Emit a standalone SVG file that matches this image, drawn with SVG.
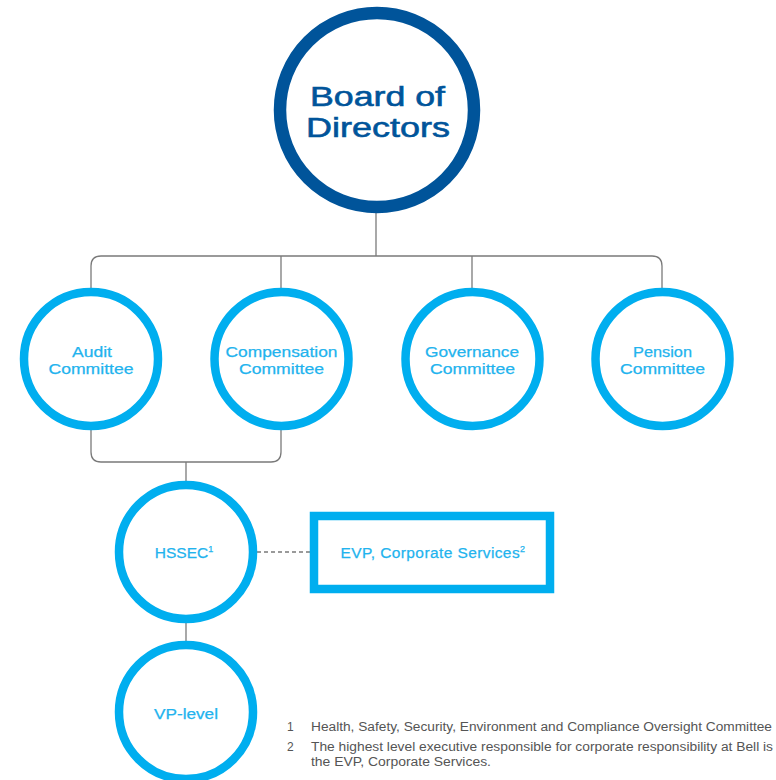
<svg xmlns="http://www.w3.org/2000/svg" width="776" height="780" viewBox="0 0 776 780">
<style>
.ring{fill:#fff;stroke:#00aeef;stroke-width:8.5}
.lbl{font-family:"Liberation Sans","Noto Sans",sans-serif;font-size:15.5px;fill:#22b3ee;stroke:#22b3ee;stroke-width:0.25;text-anchor:middle}
.big{font-family:"Liberation Sans","Noto Sans",sans-serif;font-size:27.5px;fill:#00549a;stroke:#00549a;stroke-width:0.6;text-anchor:middle}
.conn{fill:none;stroke:#7a7a7a;stroke-width:1.3}
.fn{font-family:"Liberation Sans","Noto Sans",sans-serif;font-size:12px;fill:#555}
</style>
<rect width="776" height="780" fill="#fff"/>
<g id="connectors">
<path class="conn" d="M376 213 V256"/>
<path class="conn" d="M91 289 V266 Q91 256 101 256 H652 Q662 256 662 266 V289"/>
<path class="conn" d="M281 256 V289"/>
<path class="conn" d="M472 256 V289"/>
<path class="conn" d="M91 430 V452 Q91 462 101 462 H271 Q281 462 281 452 V430"/>
<path class="conn" d="M186 462 V483"/>
<path class="conn" d="M186 622 V642"/>
<path class="conn" d="M257 552 H310" stroke-dasharray="4,3" stroke="#888"/>
</g>
<g id="board">
<circle cx="377" cy="110" r="97" fill="#fff" stroke="#00549a" stroke-width="12.5"/>
<text class="big" x="377.5" y="105.5" textLength="135" lengthAdjust="spacingAndGlyphs">Board of</text>
<text class="big" x="378" y="136.5" textLength="144" lengthAdjust="spacingAndGlyphs">Directors</text>
</g>
<g id="audit">
<circle class="ring" cx="91" cy="359" r="67"/>
<text class="lbl" x="92" y="356.5" textLength="40" lengthAdjust="spacingAndGlyphs">Audit</text>
<text class="lbl" x="91" y="374" textLength="85" lengthAdjust="spacingAndGlyphs">Committee</text>
</g>
<g id="compensation">
<circle class="ring" cx="281.5" cy="359" r="67"/>
<text class="lbl" x="281.5" y="356.5" textLength="112" lengthAdjust="spacingAndGlyphs">Compensation</text>
<text class="lbl" x="281.5" y="374" textLength="85" lengthAdjust="spacingAndGlyphs">Committee</text>
</g>
<g id="governance">
<circle class="ring" cx="472.5" cy="359" r="67"/>
<text class="lbl" x="472" y="356.5" textLength="94" lengthAdjust="spacingAndGlyphs">Governance</text>
<text class="lbl" x="472.5" y="374" textLength="85" lengthAdjust="spacingAndGlyphs">Committee</text>
</g>
<g id="pension">
<circle class="ring" cx="662.5" cy="359" r="67"/>
<text class="lbl" x="662.5" y="356.5" textLength="59" lengthAdjust="spacingAndGlyphs">Pension</text>
<text class="lbl" x="662.5" y="374" textLength="85" lengthAdjust="spacingAndGlyphs">Committee</text>
</g>
<g id="hssec">
<circle class="ring" cx="186" cy="552" r="67"/>
<text class="lbl" x="184" y="558">HSSEC<tspan font-size="9" dy="-6">1</tspan></text>
</g>
<g id="evp">
<rect x="314" y="516" width="236" height="73" fill="#fff" stroke="#00aeef" stroke-width="8.5"/>
<text class="lbl" x="433" y="558" letter-spacing="0.4">EVP, Corporate Services<tspan font-size="9" dy="-6">2</tspan></text>
</g>
<g id="vp">
<circle class="ring" cx="186" cy="712" r="67"/>
<text class="lbl" x="186" y="719" textLength="64" lengthAdjust="spacingAndGlyphs">VP-level</text>
</g>
<g id="footnotes">
<text class="fn" x="287" y="731">1</text>
<text class="fn" x="311" y="731" textLength="461" lengthAdjust="spacingAndGlyphs">Health, Safety, Security, Environment and Compliance Oversight Committee</text>
<text class="fn" x="287" y="751">2</text>
<text class="fn" x="311" y="751" textLength="462" lengthAdjust="spacingAndGlyphs">The highest level executive responsible for corporate responsibility at Bell is</text>
<text class="fn" x="311" y="766" textLength="180" lengthAdjust="spacingAndGlyphs">the EVP, Corporate Services.</text>
</g>
</svg>
